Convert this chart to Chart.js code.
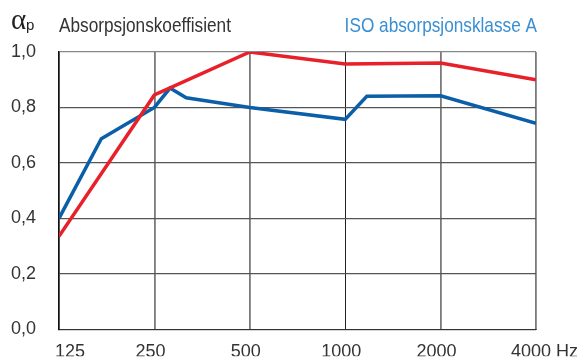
<!DOCTYPE html>
<html>
<head>
<meta charset="utf-8">
<script src="https://cdn.jsdelivr.net/npm/chart.js@4"></script>
<style>
  html, body { margin: 0; padding: 0; background: #fff; overflow: hidden; }
  #wrap { width: 584px; height: 363px; }
</style>
</head>
<body>
<div id="wrap"><canvas id="absorp"></canvas></div>
<script>
// Frequencies (Hz) and absorption values
const redFreq = [125, 250, 500, 1000, 2000, 4000];
const redAlpha = [0.335, 0.845, 1.0, 0.957, 0.96, 0.90];

const blueFreq = [125, 170, 250, 280, 315, 500, 1000, 1170, 2000, 4000];
const blueAlpha = [0.40, 0.687, 0.80, 0.87, 0.835, 0.80, 0.757, 0.84, 0.842, 0.743];

const xTicks = [125, 250, 500, 1000, 2000, 4000];
// leading spaces push the first and last labels to the right like in the original
const xTickLabels = ['      125', '250', '500', '1000', '2000', '     4000 Hz'];
const yTicks = [0, 0.2, 0.4, 0.6, 0.8, 1.0];

const SANS = "'Liberation Sans', Arial, sans-serif";

// Function to pair the x and y arrays into points
function toPoints(xs, ys) {
    return xs.map((x, i) => ({ x: x, y: ys[i] }));
}

// Draw text squeezed horizontally (the original uses a condensed face)
function narrowText(ctx, text, x, y, align) {
    const k = 0.82;
    ctx.save();
    ctx.scale(k, 1);
    ctx.textAlign = align;
    ctx.fillText(text, x / k, y);
    ctx.restore();
}

// Header texts above the plot
const headerPlugin = {
    id: 'header',
    afterDraw(chart) {
        const ctx = chart.ctx;
        ctx.save();
        ctx.textBaseline = 'alphabetic';
        ctx.fillStyle = '#222';
        ctx.textAlign = 'left';
        ctx.font = "29px 'Liberation Serif', serif";
        ctx.fillText('\u03b1', 11, 29);
        ctx.font = '15px ' + SANS;
        ctx.fillText('p', 26, 30);
        ctx.font = '21px ' + SANS;
        ctx.fillStyle = '#333';
        narrowText(ctx, 'Absorpsjonskoeffisient', 59, 32, 'left');
        ctx.fillStyle = '#3a8fd2';
        narrowText(ctx, 'ISO absorpsjonsklasse A', 537, 32, 'right');
        ctx.restore();
    }
};

function initializeChart() {
    const ctx = document.getElementById('absorp').getContext('2d');

    new Chart(ctx, {
        type: 'line',
        data: {
            datasets: [{
                label: 'ISO absorpsjonsklasse A',
                data: toPoints(redFreq, redAlpha),
                borderColor: '#e8202a',
                borderWidth: 3.5,
                pointRadius: 0,
                tension: 0,
                fill: false
            }, {
                label: 'Absorpsjonskoeffisient',
                data: toPoints(blueFreq, blueAlpha),
                borderColor: '#0a5fa8',
                borderWidth: 3.5,
                pointRadius: 0,
                tension: 0,
                fill: false
            }]
        },
        options: {
            responsive: true,
            maintainAspectRatio: false,
            animation: false,
            layout: {
                padding: { top: 52, right: 48, left: 0, bottom: 0 }
            },
            plugins: {
                legend: { display: false },
                tooltip: { enabled: false }
            },
            scales: {
                x: {
                    type: 'logarithmic',
                    min: 125,
                    max: 4000,
                    afterBuildTicks: scale => {
                        scale.ticks = xTicks.map(v => ({ value: v }));
                    },
                    afterFit: scale => {
                        scale.height = 27;
                        // keep the plot edges fixed, labels may overhang
                        scale.paddingLeft = 0;
                        scale.paddingRight = 0;
                    },
                    border: { color: '#333', width: 1 },
                    grid: {
                        drawTicks: false,
                        color: c => (c.tick && c.tick.value === 1000) ? '#222' : '#7a7a7a',
                        lineWidth: c => (c.tick && c.tick.value === 1000) ? 1 : 1.8
                    },
                    ticks: {
                        autoSkip: false,
                        maxRotation: 0,
                        minRotation: 0,
                        labelOffset: -4,
                        padding: 12,
                        color: '#333',
                        font: { family: SANS, size: 18 },
                        callback: (value, index) => xTickLabels[index]
                    }
                },
                y: {
                    min: 0,
                    max: 1,
                    afterBuildTicks: scale => {
                        scale.ticks = yTicks.map(v => ({ value: v }));
                    },
                    afterFit: scale => { scale.width = 59; },
                    border: { color: '#111', width: 1.5 },
                    grid: {
                        drawTicks: false,
                        color: c => (c.tick && c.tick.value === 1) ? '#888' : '#555',
                        lineWidth: 1.2
                    },
                    ticks: {
                        padding: 23,
                        color: '#333',
                        font: { family: SANS, size: 18 },
                        callback: value => value.toFixed(1).replace('.', ',')
                    }
                }
            }
        },
        plugins: [headerPlugin]
    });
}

initializeChart();
</script>
</body>
</html>
